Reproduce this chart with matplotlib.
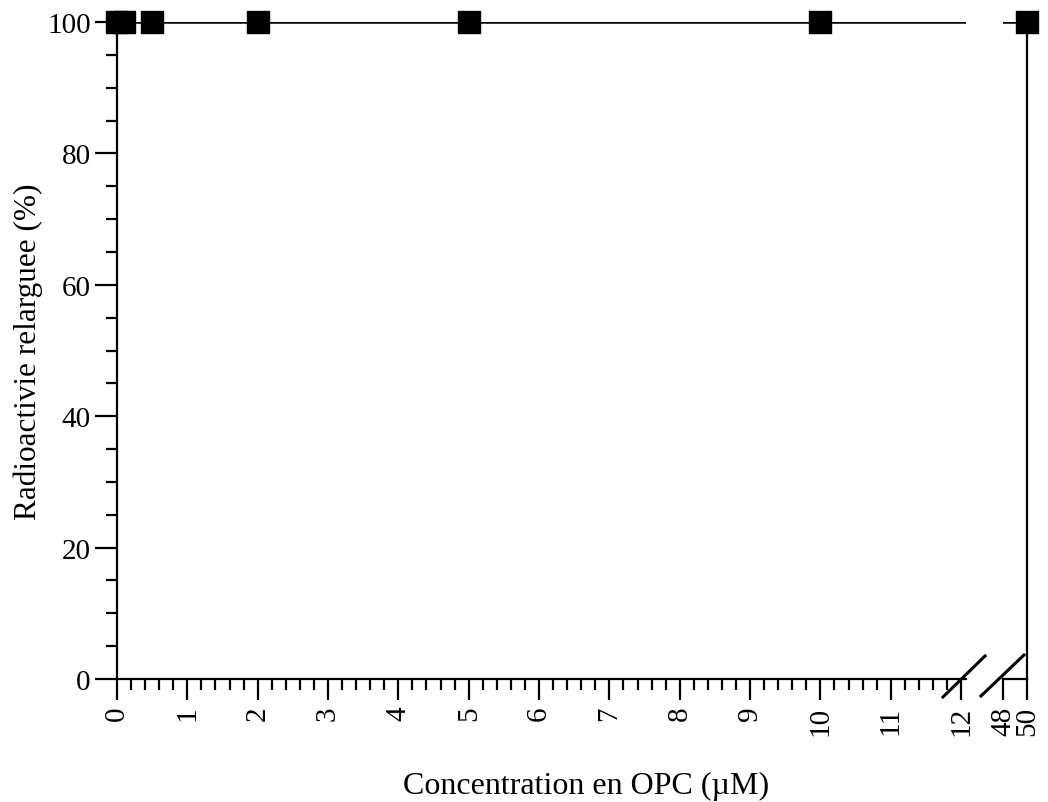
import matplotlib
matplotlib.use("Agg")
import matplotlib.pyplot as plt
from matplotlib.lines import Line2D
from matplotlib.ticker import MultipleLocator

plt.rcParams['font.family'] = ['Liberation Serif', 'DejaVu Serif']

conc = [0, 0.1, 0.5, 2, 5, 10, 50]
released = [100, 100, 100, 100, 100, 100, 100]
left_ticks = list(range(0, 13))
right_ticks = [48, 50]
y_ticks = [0, 20, 40, 60, 80, 100]

W, H = 1048, 803
fig = plt.figure(figsize=(W / 100, H / 100), dpi=100)

def fx(px):
    return px / W

def fy(py):
    return 1 - py / H

ax1 = fig.add_axes([fx(117), fy(680), fx(966) - fx(117), fy(23) - fy(680)])
ax2 = fig.add_axes([fx(1003), fy(680), fx(1027) - fx(1003), fy(23) - fy(680)])

lw = 1.6
for ax in (ax1, ax2):
    # connecting line (clipped to each axis segment)
    ax.plot(conc, released, color='black', lw=1.8, zorder=3)
    ax.set_ylim(0, 100)
    ax.spines['top'].set_visible(False)
    for s in ax.spines.values():
        s.set_linewidth(lw)
    ax.tick_params(axis='x', which='major', length=15, width=lw, direction='out',
                   labelsize=21, labelrotation=90, pad=4)
    ax.tick_params(axis='x', which='minor', length=8, width=lw, direction='out')

ax1.set_xlim(0, 12.07)
ax1.set_xticks(left_ticks)
ax1.xaxis.set_minor_locator(MultipleLocator(0.2))
ax1.spines['right'].set_visible(False)
ax1.set_yticks(y_ticks)
ax1.yaxis.set_minor_locator(MultipleLocator(5))
ax1.tick_params(axis='y', which='major', length=16, width=lw, direction='out',
                labelsize=21, pad=3)
ax1.tick_params(axis='y', which='minor', length=8, width=lw, direction='out')
ax1.set_ylabel('Radioactivie relarguee (%)', fontsize=22.5, labelpad=3)

ax2.set_xlim(48, 50)
ax2.set_xticks(right_ticks)
ax2.spines['left'].set_visible(False)
ax2.set_yticks([])

for ax in (ax1, ax2):
    lo, hi = ax.get_xlim()
    xs = [x for x in conc if lo <= x <= hi]
    ys = [y for x, y in zip(conc, released) if lo <= x <= hi]
    ax.plot(xs, ys, linestyle='none', marker='s', ms=15.5, color='black',
            clip_on=False, zorder=5)

# break marks
fig.add_artist(Line2D([fx(943), fx(985)], [fy(698), fy(657)], color='black', lw=2.2))
fig.add_artist(Line2D([fx(981), fx(1024)], [fy(697), fy(656)], color='black', lw=2.2))

fig.text(fx(586), fy(786), 'Concentration en OPC (µM)', fontsize=23,
         ha='center', va='center')

fig.savefig('out.png', dpi=100)
